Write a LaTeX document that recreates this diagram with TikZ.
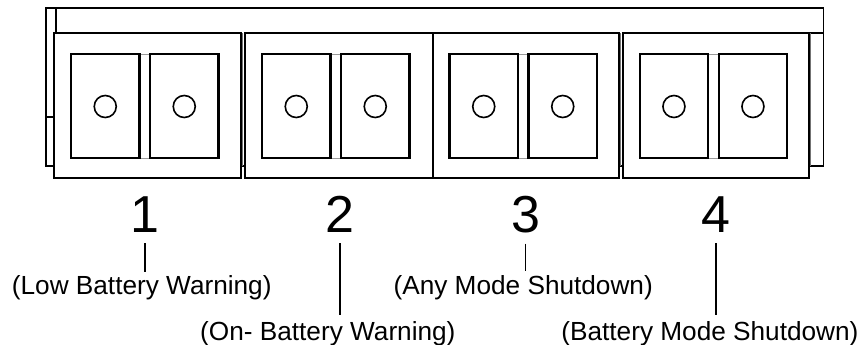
\documentclass[tikz,border=0pt]{standalone}
\usepackage{fontspec}
\newfontfamily\arialf{Liberation Sans}
\begin{document}
\begin{tikzpicture}[x=1pt,y=-1pt,
  body/.style={line width=1.8pt,draw=black},
  thin/.style={line width=1pt,draw=black!55},
  module/.style={line width=2pt,draw=black,fill=white},
  pad/.style={line width=2.3pt,draw=black,fill=white},
  gapbox/.style={line width=0.9pt,draw=black!40,fill=white},
  hole/.style={line width=1.6pt,draw=black},
  digit/.style={inner sep=0pt,anchor=base,font=\arialf\fontsize{52}{52}\selectfont},
  label/.style={inner sep=0pt,anchor=base west,font=\arialf\fontsize{26.2}{28}\selectfont},
  tick/.style={line width=1.1pt,draw=black}]
\useasboundingbox (0,0) rectangle (868,345);
% back body
\draw[body] (46,8.3) rectangle (823.5,166);
\draw[body] (56,8.3) -- (56,33.3);
\draw[body] (46,117) -- (54,117);
\draw[body] (808.5,33.3) -- (823.5,33.3);
\draw[thin] (242.8,33.3) -- (242.8,166);
\draw[thin] (620.5,33.3) -- (620.5,166);
\draw[thin] (810.5,33.3) -- (810.5,166);
% modules
\foreach \n/\a/\b in {1/54/240.7, 2/245/432.5, 3/432.5/618.5, 4/622.7/808.5}{
  \draw[module] (\a,33.3) rectangle (\b,178);
  \draw[gapbox] (\a+85.5,54) rectangle (\a+96,158.3);
  \draw[pad] (\a+17,54) rectangle (\a+85.5,158.3);
  \draw[pad] (\a+96,54) rectangle (\a+164.5,158.3);
  \draw[hole] (\a+51.25,106.5) circle[radius=11];
  \draw[hole] (\a+130.25,106.5) circle[radius=11];
}
% numbers
\node[digit] (d1) at (145,232.5) {1};
\node[digit] (d2) at (340,232.5) {2};
\node[digit] (d3) at (525.7,232.5) {3};
\node[digit] (d4) at (716,232.5) {4};
% labels
\node[label] (l1) at (11.7,294.3) {(Low Battery Warning)};
\node[label] (l2) at (200,340) {(On- Battery Warning)};
\node[label] (l3) at (393.4,294.3) {(Any Mode Shutdown)};
\node[label] (l4) at (561.2,340) {(Battery Mode Shutdown)};
% ticks
\coordinate (e1) at (145,271.7);
\coordinate (e2) at (340,315);
\coordinate (e3) at (525.7,270.7);
\coordinate (e4) at (716,315);
\draw[tick] ([yshift=-10.5pt]d1.south) -- (e1);
\draw[tick] ([yshift=-10.5pt]d2.south) -- (e2);
\draw[tick] ([yshift=-10.5pt]d3.south) -- (e3);
\draw[tick] ([yshift=-10.5pt]d4.south) -- (e4);
\end{tikzpicture}
\end{document}
